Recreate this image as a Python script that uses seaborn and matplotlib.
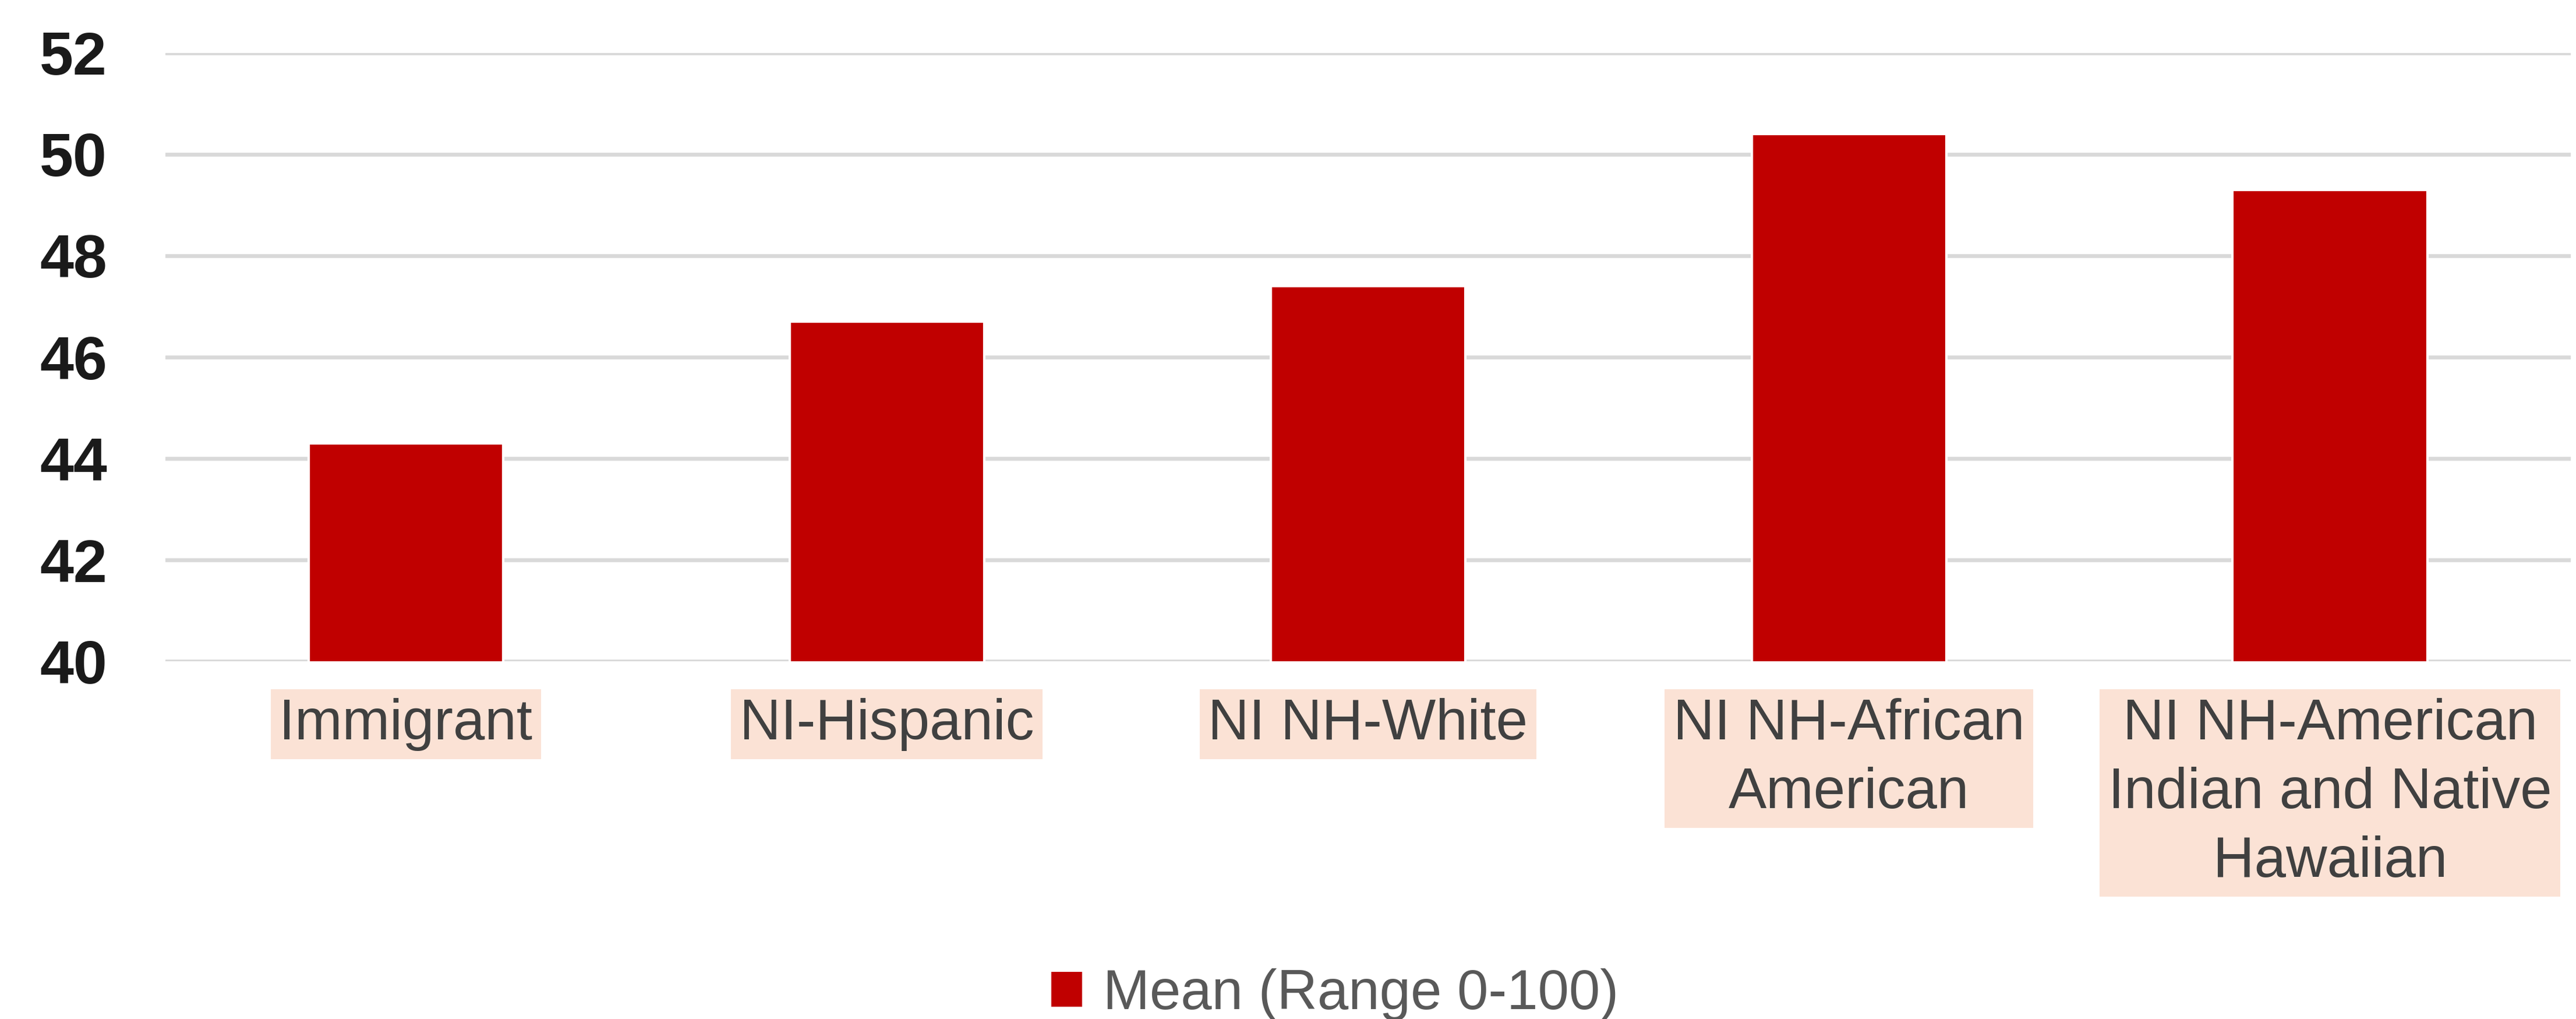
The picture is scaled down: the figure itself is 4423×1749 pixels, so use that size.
import matplotlib
matplotlib.use("Agg")
import matplotlib.pyplot as plt
import seaborn as sns
import pandas as pd

# data
groups = ["Immigrant", "NI-Hispanic", "NI NH-White",
          "NI NH-African\nAmerican", "NI NH-American\nIndian and Native\nHawaiian"]
mean_scores = [44.3, 46.7, 47.4, 50.4, 49.3]
series_name = "Mean (Range 0-100)"
y_ticks = [40, 42, 44, 46, 48, 50, 52]

BAR_COLOR = "#C00000"
GRID_COLOR = "#D9D9D9"
LABEL_BG = "#FBE2D5"

sns.set_theme(style="white")
plt.rcParams["font.family"] = ["Liberation Sans", "DejaVu Sans"]

df = pd.DataFrame({"group": groups, "mean": mean_scores})

fig = plt.figure(figsize=(4423 / 300, 1749 / 300), dpi=300)
ax = fig.add_axes([0.0642, 0.351, 0.9337, 0.597])

sns.barplot(data=df, x="group", y="mean", color=BAR_COLOR, width=0.405,
            saturation=1, ax=ax, label=series_name, zorder=3)

ax.set_ylim(40, 52)
ax.set_xlim(-0.5, len(groups) - 0.5)
ax.set_yticks(y_ticks)
ax.yaxis.grid(True, color=GRID_COLOR, linewidth=1.6, zorder=0)
ax.set_axisbelow(True)
for s in ax.spines.values():
    s.set_visible(False)
ax.set_xlabel("")
ax.set_ylabel("")

ax.tick_params(axis="y", length=0, pad=24, labelsize=25, labelcolor="#1a1a1a")
for t in ax.get_yticklabels():
    t.set_fontweight("bold")

ax.tick_params(axis="x", length=0, pad=15, labelsize=23.5, labelcolor="#404040")
for t in ax.get_xticklabels():
    t.set_linespacing(1.38)
    t.set_bbox(dict(facecolor=LABEL_BG, edgecolor="none", pad=3.5))

leg = ax.legend(loc="center", bbox_to_anchor=(0.518, 0.024),
                bbox_transform=fig.transFigure, frameon=False,
                fontsize=23, handlelength=0.6, handleheight=0.65,
                handletextpad=0.35, labelcolor="#595959")

fig.savefig("out.png", dpi=300, facecolor="white")
